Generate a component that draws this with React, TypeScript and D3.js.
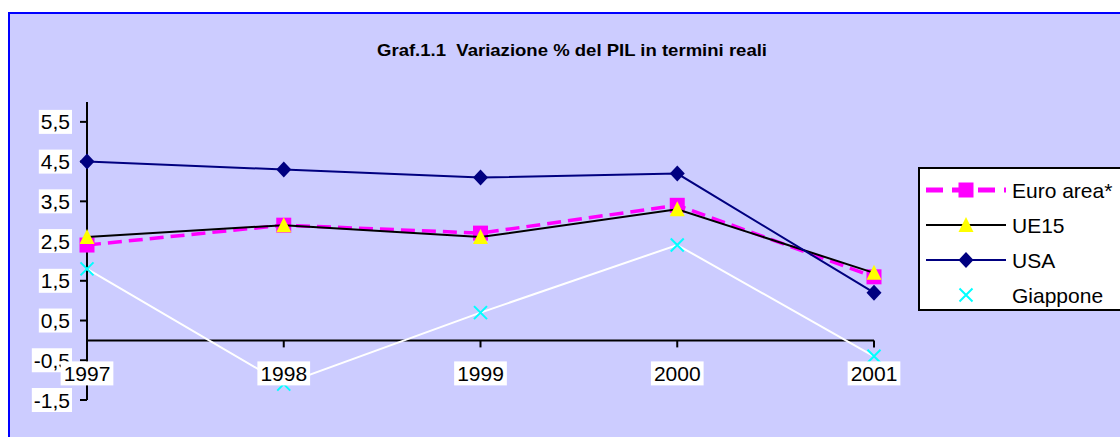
import * as d3 from "d3";

const years = ["1997", "1998", "1999", "2000", "2001"];
const euroArea = [2.4, 2.9, 2.7, 3.4, 1.6];
const ue15 = [2.6, 2.9, 2.6, 3.3, 1.7];
const usa = [4.5, 4.3, 4.1, 4.2, 1.2];
const giappone = [1.8, -1.1, 0.7, 2.4, -0.4];
const yTicks = [-1.5, -0.5, 0.5, 1.5, 2.5, 3.5, 4.5, 5.5];
const seriesNames = ["Euro area*", "UE15", "USA", "Giappone"];
const title = "Graf.1.1\u00a0\u00a0Variazione % del PIL in termini reali";

const FONT = "'Liberation Sans', Arial, sans-serif";
const W = 1120;
const H = 437;

// approximate Arial widths, good enough for the white label boxes
const charW = (c: string) => (c === "," ? 0.278 : c === "-" ? 0.333 : 0.556);
const textW = (s: string, fs: number) => s.split("").reduce((a, c) => a + charW(c) * fs, 0);

function Marker({ kind, x, y }: { kind: string; x: number; y: number }) {
  if (kind === "square")
    return <rect x={x - 7.5} y={y - 7.5} width={15} height={15} fill="#FF00FF" />;
  if (kind === "triangle")
    return <path d={`M${x},${y - 8}L${x + 7.5},${y + 7}L${x - 7.5},${y + 7}Z`} fill="#FFFF00" />;
  if (kind === "diamond")
    return <path d={`M${x},${y - 8}L${x + 7.5},${y}L${x},${y + 8}L${x - 7.5},${y}Z`} fill="#000080" />;
  return (
    <path
      d={`M${x - 6.5},${y - 6.5}L${x + 6.5},${y + 6.5}M${x + 6.5},${y - 6.5}L${x - 6.5},${y + 6.5}`}
      stroke="#00FFFF"
      strokeWidth={2}
    />
  );
}

export default function App() {
  const x = d3.scalePoint<string>().domain(years).range([87, 874]);
  const y = d3.scaleLinear().domain([-1.5, 6]).range([400, 102]);
  const y0 = y(0);

  const series = [
    { name: seriesNames[0], values: euroArea, stroke: "#FF00FF", width: 3.5, dash: "14,7", marker: "square" },
    { name: seriesNames[1], values: ue15, stroke: "#000000", width: 2, dash: "", marker: "triangle" },
    { name: seriesNames[2], values: usa, stroke: "#000080", width: 2, dash: "", marker: "diamond" },
    { name: seriesNames[3], values: giappone, stroke: "#FFFFFF", width: 2, dash: "", marker: "x" },
  ];

  const line = d3
    .line<number>()
    .x((_, i) => x(years[i])!)
    .y((d) => y(d));

  const fs = 21;
  const fmt = (v: number) => v.toFixed(1).replace(".", ",");

  return (
    <svg width={W} height={H} style={{ position: "absolute", left: 0, top: 0, display: "block" }}>
      <rect x={0} y={0} width={W} height={H} fill="#FFFFFF" />
      <rect x={9} y={13} width={W + 20} height={H + 20} fill="#CCCCFF" stroke="#0000FF" strokeWidth={2} />

      <text
        x={572}
        y={56}
        textAnchor="middle"
        fontFamily={FONT}
        fontWeight="bold"
        fontSize={17}
        textLength={390}
        lengthAdjust="spacingAndGlyphs"
        fill="#000"
      >
        {title}
      </text>

      {/* assi */}
      <g stroke="#000" strokeWidth={2} fill="none">
        <line x1={87} x2={87} y1={y(6)} y2={y(-1.5)} />
        {yTicks.map((t) => (
          <line key={t} x1={80} x2={87} y1={y(t)} y2={y(t)} />
        ))}
        <line x1={87} x2={874} y1={y0} y2={y0} />
        {years.map((yr) => (
          <line key={yr} x1={x(yr)} x2={x(yr)} y1={y0} y2={y0 + 7} />
        ))}
      </g>

      {/* serie */}
      {series.map((s) => (
        <g key={s.name}>
          <path
            d={line(s.values) || ""}
            fill="none"
            stroke={s.stroke}
            strokeWidth={s.width}
            strokeDasharray={s.dash || undefined}
          />
          {s.values.map((v, i) => (
            <Marker key={i} kind={s.marker} x={x(years[i])!} y={y(v)} />
          ))}
        </g>
      ))}

      {/* etichette asse y */}
      {yTicks.map((t) => {
        const label = fmt(t);
        const w = textW(label, fs);
        return (
          <g key={t}>
            <rect x={72 - w - 4} y={y(t) - 12} width={w + 4} height={24} fill="#FFFFFF" />
            <text x={70} y={y(t) + 7.5} textAnchor="end" fontFamily={FONT} fontSize={fs} fill="#000">
              {label}
            </text>
          </g>
        );
      })}

      {/* etichette asse x */}
      {years.map((yr) => {
        const w = textW(yr, fs);
        const cx = x(yr)!;
        return (
          <g key={yr}>
            <rect x={cx - w / 2 - 3} y={y0 + 21} width={w + 6} height={24} fill="#FFFFFF" />
            <text x={cx} y={y0 + 40.5} textAnchor="middle" fontFamily={FONT} fontSize={fs} fill="#000">
              {yr}
            </text>
          </g>
        );
      })}

      {/* legenda */}
      <rect x={919} y={168} width={W} height={142} fill="#FFFFFF" stroke="#000" strokeWidth={2} />
      {series.map((s, i) => {
        const ly = 190 + i * 35;
        return (
          <g key={s.name}>
            {s.stroke !== "#FFFFFF" && (
              <line
                x1={926}
                x2={1006}
                y1={ly}
                y2={ly}
                stroke={s.stroke}
                strokeWidth={s.dash ? 5 : 2}
                strokeDasharray={s.dash ? "17,9" : undefined}
              />
            )}
            <Marker kind={s.marker} x={966} y={ly} />
            <text x={1012} y={ly + 7.5} fontFamily={FONT} fontSize={fs} fill="#000">
              {s.name}
            </text>
          </g>
        );
      })}
    </svg>
  );
}
